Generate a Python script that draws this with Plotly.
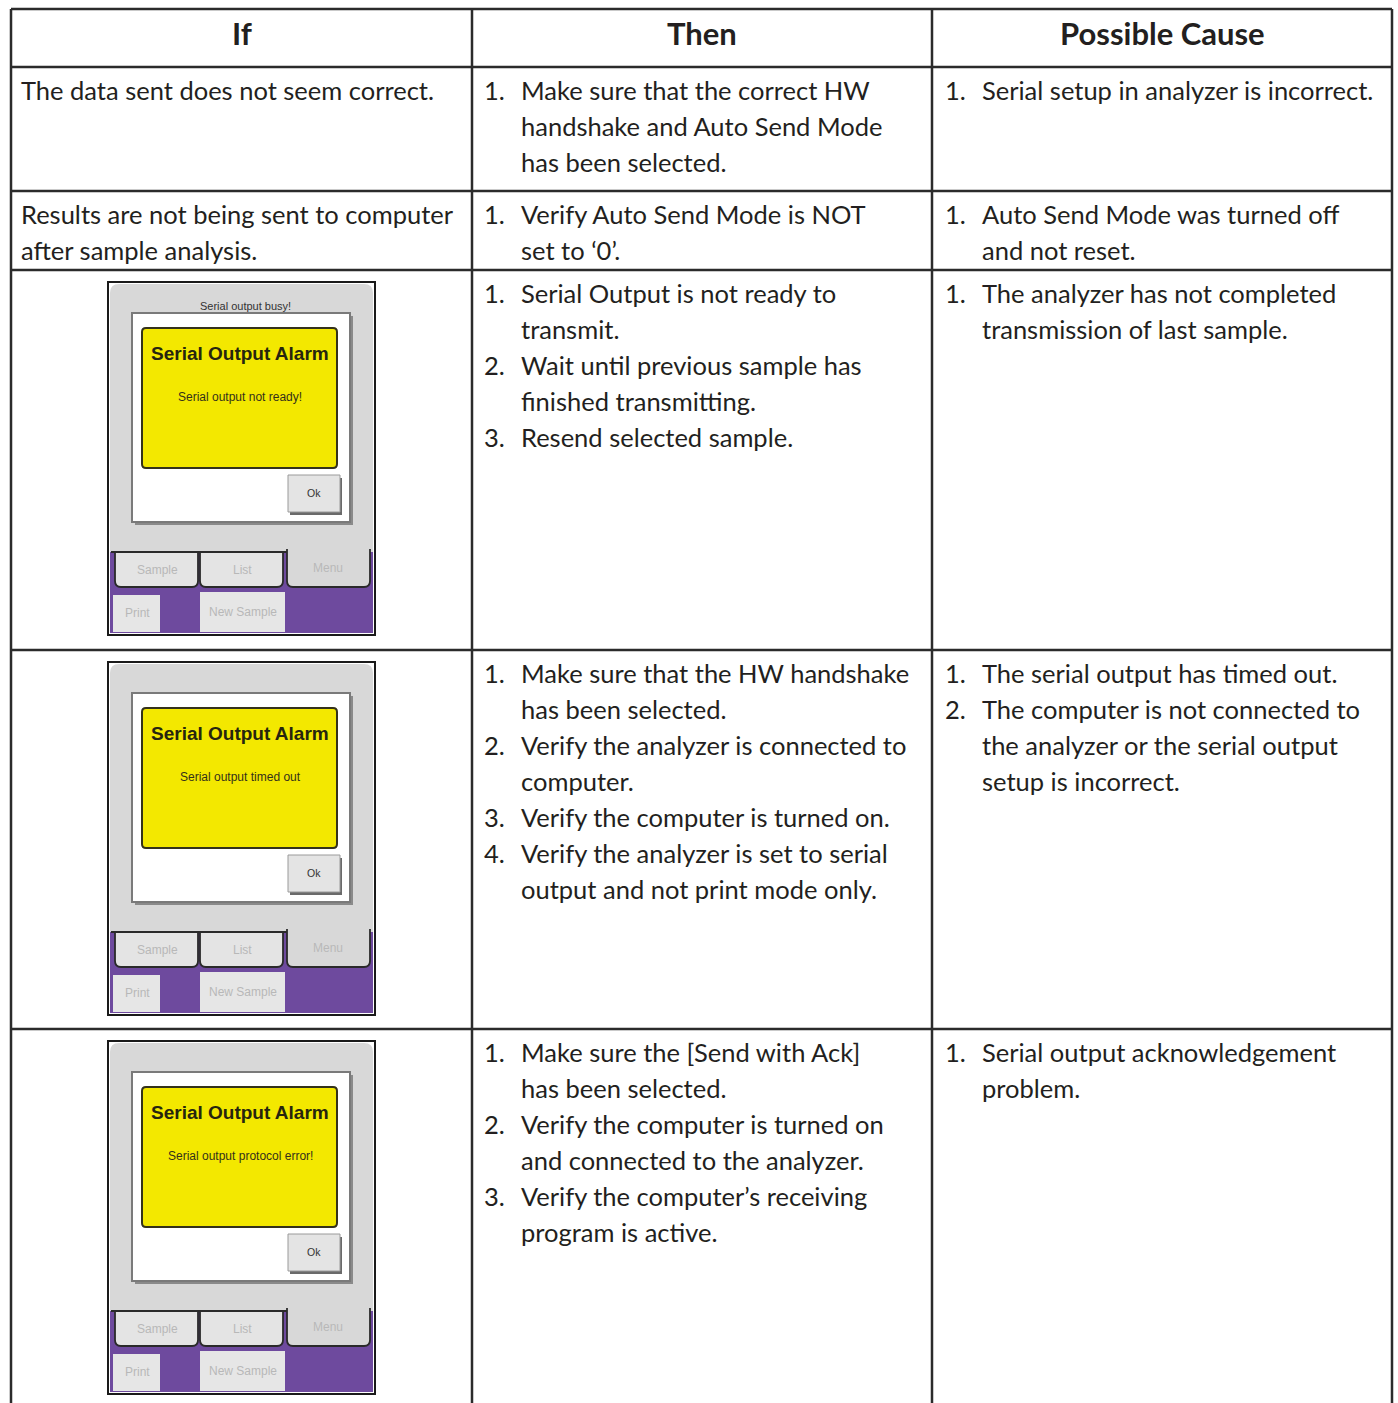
import plotly.graph_objects as go

W, H = 1398, 1403

# ---------------- table content ----------------
headers = ["If", "Then", "Possible Cause"]

if_text = [
    ["The data sent does not seem correct."],
    ["Results are not being sent to computer", "after sample analysis."],
    None, None, None,
]

then_items = [
    [["Make sure that the correct HW", "handshake and Auto Send Mode", "has been selected."]],
    [["Verify Auto Send Mode is NOT", "set to \u20180\u2019."]],
    [["Serial Output is not ready to", "transmit."],
     ["Wait until previous sample has", "finished transmitting."],
     ["Resend selected sample."]],
    [["Make sure that the HW handshake", "has been selected."],
     ["Verify the analyzer is connected to", "computer."],
     ["Verify the computer is turned on."],
     ["Verify the analyzer is set to serial", "output and not print mode only."]],
    [["Make sure the [Send with Ack]", "has been selected."],
     ["Verify the computer is turned on", "and connected to the analyzer."],
     ["Verify the computer\u2019s receiving", "program is active."]],
]

cause_items = [
    [["Serial setup in analyzer is incorrect."]],
    [["Auto Send Mode was turned off", "and not reset."]],
    [["The analyzer has not completed", "transmission of last sample."]],
    [["The serial output has timed out."],
     ["The computer is not connected to", "the analyzer or the serial output", "setup is incorrect."]],
    [["Serial output acknowledgement", "problem."]],
]

# screenshot contents (rows 3-5)
screen_title = "Serial Output Alarm"
screen_headers = ["Serial output busy!", "", ""]
screen_messages = ["Serial output not ready!", "Serial output timed out", "Serial output protocol error!"]
tab_labels = ["Sample", "List", "Menu"]
button_labels = ["Print", "New Sample"]
ok_label = "Ok"

# ---------------- geometry ----------------
col_x = [11, 472, 932, 1392]
row_y = [9, 67, 191, 270, 650, 1029]
TOP_PAD = 23
LINE_H = 36
LINE_COL = "#2b2b2b"
TXT_COL = "#231f20"
BODY_FONT = "Lato"
BODY_SIZE = 25.5

shapes = []
annotations = []

# grid lines
for y in row_y:
    shapes.append(dict(type="line", x0=col_x[0], x1=col_x[-1], y0=y, y1=y,
                       line=dict(color=LINE_COL, width=2.5), layer="above"))
for x in col_x:
    shapes.append(dict(type="line", x0=x, x1=x, y0=row_y[0], y1=H + 5,
                       line=dict(color=LINE_COL, width=2.5), layer="above"))

# headers
for i, h in enumerate(headers):
    annotations.append(dict(x=(col_x[i] + col_x[i + 1]) / 2, y=(row_y[0] + row_y[1]) / 2 - 5,
                            text="<b>" + h + "</b>", showarrow=False, xanchor="center", yanchor="middle",
                            font=dict(family=BODY_FONT, size=31, color=TXT_COL)))


def add_line(x, y, txt, size=BODY_SIZE):
    annotations.append(dict(x=x, y=y, text=txt, showarrow=False, xanchor="left", yanchor="middle",
                            font=dict(family=BODY_FONT, size=size, color=TXT_COL)))


def add_items(items, x_num, x_txt, top):
    k = 0
    for n, item in enumerate(items):
        for j, ln in enumerate(item):
            y = top + TOP_PAD + LINE_H * k
            if j == 0:
                add_line(x_num, y, f"{n + 1}.")
            add_line(x_txt, y, ln)
            k += 1


row_tops = row_y[1:]
for r in range(5):
    top = row_tops[r]
    if if_text[r] is not None:
        for k, ln in enumerate(if_text[r]):
            add_line(19, top + TOP_PAD + LINE_H * k, ln)
    add_items(then_items[r], 482, 519, top)
    add_items(cause_items[r], 943, 980, top)


# ---------------- screenshot drawing ----------------
def rrect(x0, y0, x1, y1, r, tl=True, tr=True, br=True, bl=True):
    p = f"M {x0 + (r if tl else 0)},{y0} "
    p += f"L {x1 - (r if tr else 0)},{y0} "
    if tr:
        p += f"Q {x1},{y0} {x1},{y0 + r} "
    p += f"L {x1},{y1 - (r if br else 0)} "
    if br:
        p += f"Q {x1},{y1} {x1 - r},{y1} "
    p += f"L {x0 + (r if bl else 0)},{y1} "
    if bl:
        p += f"Q {x0},{y1} {x0},{y1 - r} "
    p += f"L {x0},{y0 + (r if tl else 0)} "
    if tl:
        p += f"Q {x0},{y0} {x0 + r},{y0} "
    return p + "Z"


def open_tab(x0, y0, x1, y1, r):
    # left, bottom and right edges only (no top edge)
    return (f"M {x0},{y0} L {x0},{y1 - r} Q {x0},{y1} {x0 + r},{y1} "
            f"L {x1 - r},{y1} Q {x1},{y1} {x1},{y1 - r} L {x1},{y0}")


GRAY = "#d8d8d8"
PURPLE = "#6e4a9e"
YELLOW = "#f3e800"
BTN = "#e4e4e4"
LBL = "#b8b8b8"
SCR_FONT = "Liberation Sans"


def sh(**kw):
    shapes.append(kw)


def txt(x, y, t, size, color, bold=False):
    annotations.append(dict(x=x, y=y, text=("<b>" + t + "</b>") if bold else t, showarrow=False,
                            xanchor="center", yanchor="middle",
                            font=dict(family=SCR_FONT, size=size, color=color)))


def device(ox, oy, header, msg):
    X = lambda v: ox + v
    Y = lambda v: oy + v
    # outer frame
    sh(type="rect", x0=X(0), x1=X(267), y0=Y(0), y1=Y(353), fillcolor="#ffffff",
       line=dict(color="#1a1a1a", width=2))
    # purple bottom
    sh(type="rect", x0=X(2), x1=X(265), y0=Y(268), y1=Y(351), fillcolor=PURPLE, line=dict(width=0))
    # gray body
    sh(type="path", path=rrect(X(2), Y(2), X(265), Y(270), 9, br=False, bl=False), fillcolor=GRAY,
       line=dict(width=0))
    # tab row top line
    sh(type="line", x0=X(3), x1=X(179), y0=Y(270), y1=Y(270), line=dict(color="#2a2a2a", width=1.8))
    # Sample / List tabs
    for tx0, tx1 in [(7, 90), (92, 175)]:
        sh(type="path", path=rrect(X(tx0), Y(270), X(tx1), Y(305), 6, tl=False, tr=False),
           fillcolor=BTN, line=dict(color="#2a2a2a", width=1.8))
    # Menu tab (selected) - fill, then open outline
    sh(type="path", path=rrect(X(179), Y(266), X(262), Y(305), 6, tl=False, tr=False),
       fillcolor=GRAY, line=dict(width=0))
    sh(type="path", path=open_tab(X(179), Y(267), X(262), Y(305), 6),
       fillcolor="rgba(0,0,0,0)", line=dict(color="#2a2a2a", width=1.8))
    # Print / New Sample buttons
    sh(type="rect", x0=X(5), x1=X(52), y0=Y(313), y1=Y(350), fillcolor="#e6e6e6", line=dict(width=0))
    sh(type="rect", x0=X(92), x1=X(177), y0=Y(310), y1=Y(350), fillcolor="#e6e6e6", line=dict(width=0))
    # dialog shadow + dialog
    sh(type="rect", x0=X(27), x1=X(245), y0=Y(34), y1=Y(243), fillcolor="#8a8a8a", line=dict(width=0))
    sh(type="rect", x0=X(24), x1=X(242), y0=Y(31), y1=Y(240), fillcolor="#ffffff",
       line=dict(color="#7a7a7a", width=2))
    # yellow panel
    sh(type="path", path=rrect(X(34), Y(46), X(229), Y(186), 4), fillcolor=YELLOW,
       line=dict(color="#34321a", width=2))
    # Ok button with shadow
    sh(type="rect", x0=X(182), x1=X(234), y0=Y(196), y1=Y(233), fillcolor="#6a6a6a", line=dict(width=0))
    sh(type="rect", x0=X(180), x1=X(232), y0=Y(193), y1=Y(230), fillcolor=BTN,
       line=dict(color="#9a9a9a", width=1))
    # texts
    if header:
        txt(X(137), Y(24), header, 11, "#333333")
    txt(X(132), Y(71), screen_title, 19, "#26250f", bold=True)
    txt(X(132), Y(115), msg, 12, "#33311a")
    txt(X(206), Y(211), ok_label, 10.5, "#333333")
    txt(X(49), Y(288), tab_labels[0], 12, LBL)
    txt(X(134), Y(288), tab_labels[1], 12, LBL)
    txt(X(220), Y(286), tab_labels[2], 12, LBL)
    txt(X(29), Y(331), button_labels[0], 12, LBL)
    txt(X(135), Y(330), button_labels[1], 12, LBL)


for i in range(3):
    device(108, row_tops[i + 2] + 12, screen_headers[i], screen_messages[i])

fig = go.Figure()
fig.update_layout(
    width=W, height=H, margin=dict(l=0, r=0, t=0, b=0),
    paper_bgcolor="#ffffff", plot_bgcolor="#ffffff",
    xaxis=dict(range=[0, W], visible=False, fixedrange=True),
    yaxis=dict(range=[H, 0], visible=False, fixedrange=True),
    shapes=shapes, annotations=annotations, showlegend=False,
)
fig.write_html("out.html", config={"displayModeBar": False},
               post_script="document.body.style.margin='0';document.body.style.overflow='hidden';")
